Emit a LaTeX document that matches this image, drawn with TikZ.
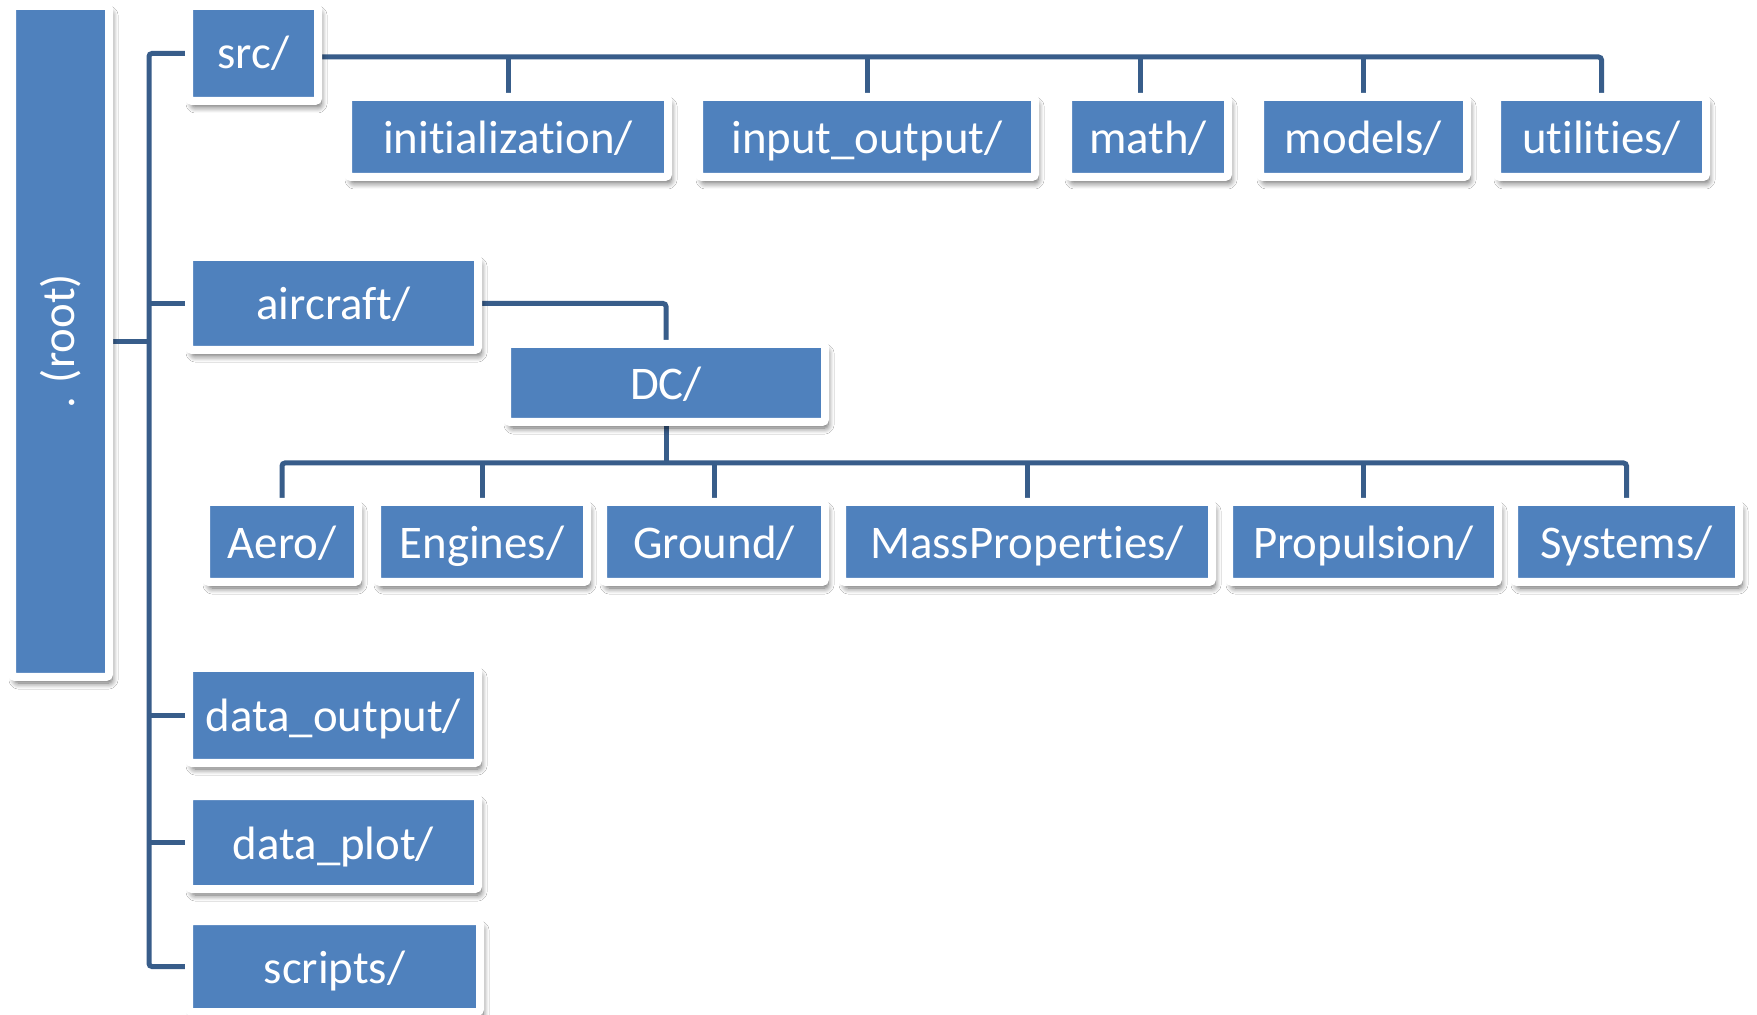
\documentclass[tikz,border=0pt]{standalone}
\usepackage{fontspec}
\usepackage{graphicx}
\setmainfont{Carlito}[Ligatures={NoCommon}]
\usetikzlibrary{shadows.blur,backgrounds}
\definecolor{boxblue}{RGB}{79,129,189}
\definecolor{linkblue}{RGB}{56,93,138}
\tikzset{
  dirbox/.style 2 args={fill=boxblue, draw=white, line width=4pt, rounded corners=1.5pt,
    inner sep=0pt, minimum width={(#1+8)*0.5pt}, minimum height={(#2+8)*0.5pt},
    text=white, font=\fontsize{23.4}{28}\selectfont, tshift=16.5,
    blur shadow={shadow xshift=1.5pt, shadow yshift=-3pt, shadow blur steps=8, shadow blur radius=3pt, shadow opacity=60}},
  tshift/.style={text height=#1*1pt, text depth=0pt},
  link/.style={draw=linkblue, line width=2.5pt, rounded corners=1.5pt},
}
\begin{document}
\begin{tikzpicture}[x=0.5pt,y=-0.5pt]
\useasboundingbox (0,0) rectangle (1757,1015);
% main column
\node[dirbox={89}{663}, text height=, text depth=] (root) at (60.5,341.5) {\rotatebox{90}{. (root)}};
\node[dirbox={121}{87}, tshift=15] (src) at (253.5,53.5) {src/};
\node[dirbox={281}{85}] (aircraft) at (333.5,303.5) {aircraft/};
\node[dirbox={310}{70}] (DC) at (666,383) {DC/};
\node[dirbox={281}{87}] (dout) at (333.5,715.5) {data\_output/};
\node[dirbox={281}{85}] (dplot) at (333.5,842.5) {data\_plot/};
\node[dirbox={283}{83}] (scripts) at (334.5,966.5) {scripts/};
% src children
\begin{scope}[every node/.append style={tshift=19.5}]
\node[dirbox={312}{72}] (init) at (508,137) {initialization/};
\node[dirbox={328}{72}] (io) at (867,137) {input\_output/};
\node[dirbox={152}{72}] (math) at (1148,137) {math/};
\node[dirbox={199}{72}] (models) at (1363.5,137) {models/};
\node[dirbox={201}{72}] (util) at (1601.5,137) {utilities/};
\end{scope}
% DC children
\begin{scope}[every node/.append style={tshift=9.5}]
\node[dirbox={144}{72}] (aero) at (282,542) {Aero/};
\node[dirbox={202}{72}] (eng) at (482,542) {Engines/};
\node[dirbox={214}{72}] (ground) at (714,542) {Ground/};
\node[dirbox={362}{72}] (mass) at (1027,542) {MassProperties/};
\node[dirbox={261}{72}] (prop) at (1363.5,542) {Propulsion/};
\node[dirbox={217}{72}] (sys) at (1626.5,542) {Systems/};
\end{scope}
\begin{scope}[on background layer]
  \fill[white] (0,0) rectangle (1757,1015);
  \coordinate (tt) at (149,53.5);
  \coordinate (tb) at (149,966.5);
  \coordinate (sb) at (0,57);
  \coordinate (db) at (0,463);
  % trunk
  \draw[link] (src.west) -| (tb) -- (scripts.west);
  \draw[link] (root.east) -- (root.east -| tt);
  \draw[link] (aircraft.west) -- (aircraft.west -| tt);
  \draw[link] (dout.west) -- (dout.west -| tt);
  \draw[link] (dplot.west) -- (dplot.west -| tt);
  % src bus
  \draw[link] (src.east |- sb) -| (util.north);
  \draw[link] (init.north |- sb) -- (init.north);
  \draw[link] (io.north |- sb) -- (io.north);
  \draw[link] (1140,57) -- (1140,57 |- math.north);
  \draw[link] (models.north |- sb) -- (models.north);
  % aircraft -> DC
  \draw[link] (aircraft.east) -| (DC.north);
  % DC bus
  \draw[link] (DC.south) -- (DC.south |- db);
  \draw[link] (aero.north) |- (sys.north |- db) -- (sys.north);
  \draw[link] (eng.north |- db) -- (eng.north);
  \draw[link] (ground.north |- db) -- (ground.north);
  \draw[link] (mass.north |- db) -- (mass.north);
  \draw[link] (prop.north |- db) -- (prop.north);
\end{scope}
\end{tikzpicture}
\end{document}
